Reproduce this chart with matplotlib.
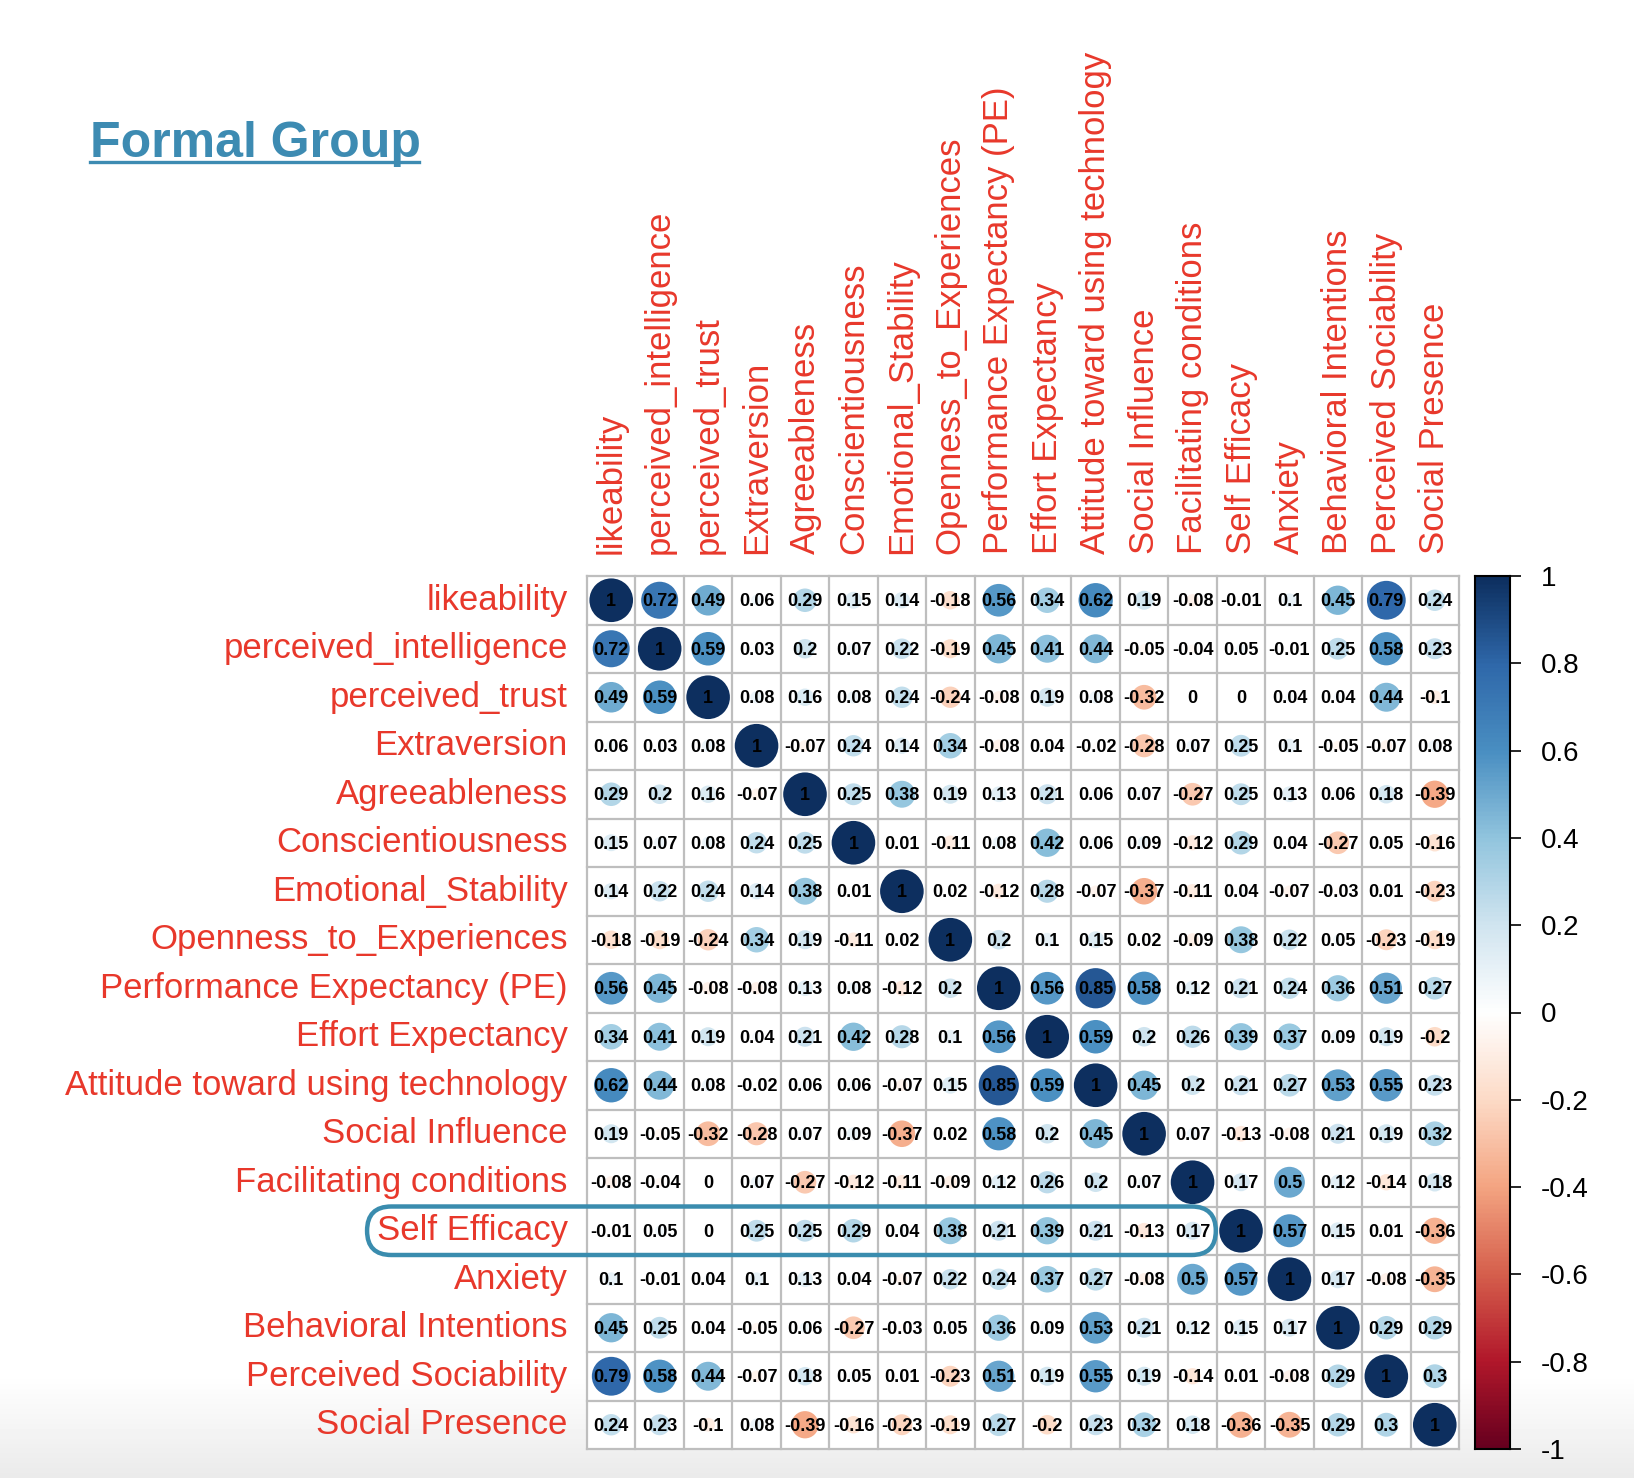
import matplotlib.pyplot as plt
import numpy as np
from matplotlib.colors import LinearSegmentedColormap
from matplotlib.patches import Circle, FancyBboxPatch
from matplotlib.lines import Line2D

plt.rcParams['font.family'] = ['Liberation Sans', 'DejaVu Sans']

labels = ['likeability', 'perceived_intelligence', 'perceived_trust', 'Extraversion',
          'Agreeableness', 'Conscientiousness', 'Emotional_Stability',
          'Openness_to_Experiences', 'Performance Expectancy (PE)', 'Effort Expectancy',
          'Attitude toward using technology', 'Social Influence', 'Facilitating conditions',
          'Self Efficacy', 'Anxiety', 'Behavioral Intentions', 'Perceived Sociability',
          'Social Presence']

corr_rows = [
    [1, 0.72, 0.49, 0.06, 0.29, 0.15, 0.14, -0.18, 0.56, 0.34, 0.62, 0.19, -0.08, -0.01, 0.1, 0.45, 0.79, 0.24],
    [0.72, 1, 0.59, 0.03, 0.2, 0.07, 0.22, -0.19, 0.45, 0.41, 0.44, -0.05, -0.04, 0.05, -0.01, 0.25, 0.58, 0.23],
    [0.49, 0.59, 1, 0.08, 0.16, 0.08, 0.24, -0.24, -0.08, 0.19, 0.08, -0.32, 0, 0, 0.04, 0.04, 0.44, -0.1],
    [0.06, 0.03, 0.08, 1, -0.07, 0.24, 0.14, 0.34, -0.08, 0.04, -0.02, -0.28, 0.07, 0.25, 0.1, -0.05, -0.07, 0.08],
    [0.29, 0.2, 0.16, -0.07, 1, 0.25, 0.38, 0.19, 0.13, 0.21, 0.06, 0.07, -0.27, 0.25, 0.13, 0.06, 0.18, -0.39],
    [0.15, 0.07, 0.08, 0.24, 0.25, 1, 0.01, -0.11, 0.08, 0.42, 0.06, 0.09, -0.12, 0.29, 0.04, -0.27, 0.05, -0.16],
    [0.14, 0.22, 0.24, 0.14, 0.38, 0.01, 1, 0.02, -0.12, 0.28, -0.07, -0.37, -0.11, 0.04, -0.07, -0.03, 0.01, -0.23],
    [-0.18, -0.19, -0.24, 0.34, 0.19, -0.11, 0.02, 1, 0.2, 0.1, 0.15, 0.02, -0.09, 0.38, 0.22, 0.05, -0.23, -0.19],
    [0.56, 0.45, -0.08, -0.08, 0.13, 0.08, -0.12, 0.2, 1, 0.56, 0.85, 0.58, 0.12, 0.21, 0.24, 0.36, 0.51, 0.27],
    [0.34, 0.41, 0.19, 0.04, 0.21, 0.42, 0.28, 0.1, 0.56, 1, 0.59, 0.2, 0.26, 0.39, 0.37, 0.09, 0.19, -0.2],
    [0.62, 0.44, 0.08, -0.02, 0.06, 0.06, -0.07, 0.15, 0.85, 0.59, 1, 0.45, 0.2, 0.21, 0.27, 0.53, 0.55, 0.23],
    [0.19, -0.05, -0.32, -0.28, 0.07, 0.09, -0.37, 0.02, 0.58, 0.2, 0.45, 1, 0.07, -0.13, -0.08, 0.21, 0.19, 0.32],
    [-0.08, -0.04, 0, 0.07, -0.27, -0.12, -0.11, -0.09, 0.12, 0.26, 0.2, 0.07, 1, 0.17, 0.5, 0.12, -0.14, 0.18],
    [-0.01, 0.05, 0, 0.25, 0.25, 0.29, 0.04, 0.38, 0.21, 0.39, 0.21, -0.13, 0.17, 1, 0.57, 0.15, 0.01, -0.36],
    [0.1, -0.01, 0.04, 0.1, 0.13, 0.04, -0.07, 0.22, 0.24, 0.37, 0.27, -0.08, 0.5, 0.57, 1, 0.17, -0.08, -0.35],
    [0.45, 0.25, 0.04, -0.05, 0.06, -0.27, -0.03, 0.05, 0.36, 0.09, 0.53, 0.21, 0.12, 0.15, 0.17, 1, 0.29, 0.29],
    [0.79, 0.58, 0.44, -0.07, 0.18, 0.05, 0.01, -0.23, 0.51, 0.19, 0.55, 0.19, -0.14, 0.01, -0.08, 0.29, 1, 0.3],
    [0.24, 0.23, -0.1, 0.08, -0.39, -0.16, -0.23, -0.19, 0.27, -0.2, 0.23, 0.32, 0.18, -0.36, -0.35, 0.29, 0.3, 1],
]

cbar_ticks = [1, 0.8, 0.6, 0.4, 0.2, 0, -0.2, -0.4, -0.6, -0.8, -1]
highlight_row = 'Self Efficacy'

# corrplot's RdBu palette (slightly softened blues as in the screenshot)
rdbu = ["#67001F", "#B2182B", "#D6604D", "#F4A582", "#FDDBC7", "#FFFFFF",
        "#D1E5F0", "#92C5DE", "#4a8fc2", "#2f68aa", "#0d2f5f"]
cmap = LinearSegmentedColormap.from_list('corrRdBu', rdbu, N=200)

W, H = 1634, 1478
fig = plt.figure(figsize=(W / 100, H / 100), dpi=100)

# faint grey fade at the bottom edge
bg = fig.add_axes([0, 0, 1, 1], zorder=-5)
ys = np.linspace(0, 1, 300)
shade = np.clip((ys - 0.93) / 0.07, 0, 1) * 0.08
grad = 1 - np.tile(shade[:, None], (1, 2))
bg.imshow(grad, cmap='gray', vmin=0, vmax=1, aspect='auto', extent=[0, 1, 0, 1], origin='upper')
bg.set_axis_off()

red = '#E8382B'
n = len(labels)
corr = np.array(corr_rows, dtype=float)

ax = fig.add_axes([587 / W, 1 - 1449 / H, 872 / W, 873 / H])
ax.set_xlim(0, n)
ax.set_ylim(n, 0)
ax.set_axis_off()

ax.add_patch(plt.Rectangle((0, 0), n, n, facecolor='white', edgecolor='none', zorder=0))
for i in range(n):
    for j in range(n):
        v = corr[i, j]
        r = 0.45 * np.sqrt(abs(v))
        if r > 0:
            ax.add_patch(Circle((j + 0.5, i + 0.5), r, facecolor=cmap((v + 1) / 2),
                                edgecolor='none', zorder=1))
        ax.text(j + 0.5, i + 0.53, f"{v:g}", ha='center', va='center',
                fontsize=13, fontweight='bold', color='black', zorder=3)

for k in range(n + 1):
    ax.plot([k, k], [0, n], color='#BEBEBE', lw=1.6, zorder=2, clip_on=False)
    ax.plot([0, n], [k, k], color='#BEBEBE', lw=1.6, zorder=2, clip_on=False)

for i, lab in enumerate(labels):
    ax.text(-0.4, i + 0.5, lab, ha='right', va='center', fontsize=25, color=red, clip_on=False)
    ax.text(i + 0.5, -0.45, lab, ha='center', va='bottom', rotation=90, fontsize=25,
            color=red, clip_on=False)

# highlighted row
hi = labels.index(highlight_row)
box = FancyBboxPatch((-4.54, hi), 17.52, 1.0, boxstyle='round,pad=0,rounding_size=0.5',
                     facecolor='none', edgecolor='#3A8CAE', lw=3.2, zorder=4, clip_on=False)
ax.add_patch(box)

# colour bar
cax = fig.add_axes([1475 / W, 1 - 1449 / H, 35 / W, 873 / H])
cb_vals = np.linspace(-1, 1, 400)[:, None]
cax.imshow(cb_vals, cmap=cmap, vmin=-1, vmax=1, aspect='auto', origin='lower',
           extent=[0, 1, -1, 1])
cax.set_xlim(0, 1)
cax.set_ylim(-1, 1)
cax.set_xticks([])
cax.yaxis.tick_right()
cax.set_yticks(cbar_ticks)
cax.set_yticklabels([f"{t:g}" for t in cbar_ticks])
cax.tick_params(axis='y', length=8, width=1.2, labelsize=20, pad=14)
for s in cax.spines.values():
    s.set_linewidth(1.5)

# title with underline
fig.text(90 / W, 1 - 157 / H, 'Formal Group', fontsize=36, fontweight='bold',
         color='#3D8BB2', ha='left', va='baseline')
fig.add_artist(Line2D([90 / W, 419 / W], [1 - 162 / H, 1 - 162 / H],
                      transform=fig.transFigure, color='#3D8BB2', lw=2.4))

fig.savefig('out.png', dpi=100)
